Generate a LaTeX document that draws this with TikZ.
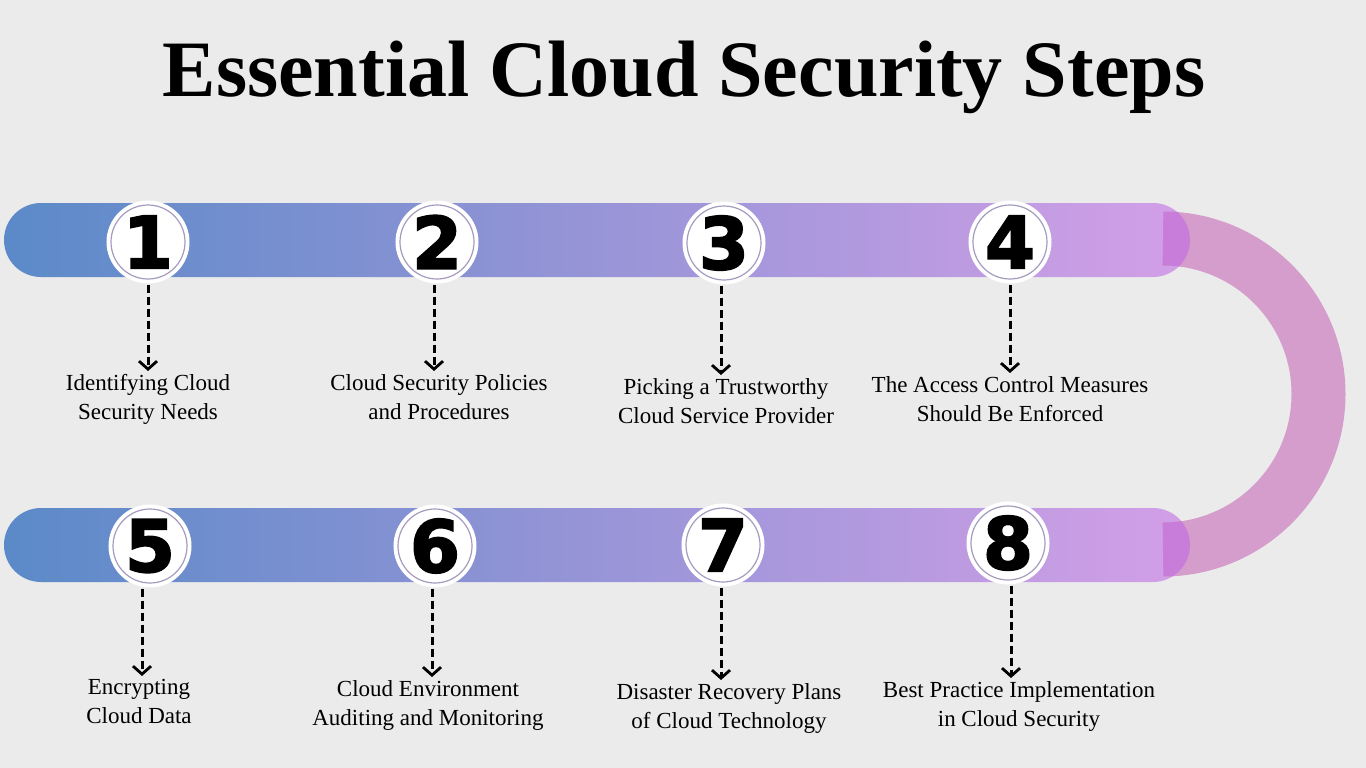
\documentclass[tikz,border=0pt]{standalone}
\usepackage{fontspec}
\setmainfont{Liberation Serif}
\newfontfamily\numfont{DejaVu Sans}[BoldFeatures={FakeBold=2.5}]
\usetikzlibrary{arrows.meta}
\definecolor{bg}{HTML}{EBEBEB}
\definecolor{barL}{HTML}{5B8AC8}
\definecolor{barM}{HTML}{9A93D6}
\definecolor{barR}{HTML}{D39FE7}
\definecolor{arccol}{HTML}{D49DCC}
\definecolor{overcol}{HTML}{C97DDB}
\definecolor{ringcol}{HTML}{A59BBD}
\tikzset{
  numc/.style={circle, fill=white, draw=ringcol, line width=1.2pt, minimum size=74pt, inner sep=0pt,
    font=\numfont\bfseries\fontsize{72}{72}\selectfont, preaction={draw=white, line width=9pt}},
  lab/.style={align=center, inner sep=0pt, anchor=north, font=\fontsize{23}{29}\selectfont},
  dar/.style={draw=black, line width=3pt, dash pattern=on 8pt off 4pt, shorten <=5pt, shorten >=3pt,
    -{Straight Barb[length=8pt,width=18pt,line width=2.8pt]}},
  bar/.style={left color=barL, middle color=barM, right color=barR, rounded corners=37pt}
}
\begin{document}
\begin{tikzpicture}[x=1pt,y=-1pt]
\fill[bg] (0,0) rectangle (1366,768);
\useasboundingbox (0,0) rectangle (1366,768);
\node[anchor=base, inner sep=0pt, font=\bfseries\fontsize{80}{80}\selectfont] (title) at (684,96) {Essential Cloud Security Steps};
% bars
\shade[bar] (4,203) rectangle (1190,277);
\shade[bar] (4,508) rectangle (1190,582);
% connecting arc
\draw[arccol, line width=54pt] (1163,238.5) arc[start angle=-90, end angle=90, radius=155.5];
\begin{scope}
\clip[rounded corners=37pt] (4,203) rectangle (1190,277);
\draw[overcol, line width=54pt] (1163,238.5) arc[start angle=-90, end angle=90, radius=155.5];
\end{scope}
\begin{scope}
\clip[rounded corners=37pt] (4,508) rectangle (1190,582);
\draw[overcol, line width=54pt] (1163,238.5) arc[start angle=-90, end angle=90, radius=155.5];
\end{scope}
% circles
\node[numc] (c1) at (148,242) {1};
\node[numc] (c2) at (437,242) {2};
\node[numc] (c3) at (724,243) {3};
\node[numc] (c4) at (1010,242) {4};
\node[numc] (c5) at (150,546) {5};
\node[numc] (c6) at (435,546) {6};
\node[numc] (c7) at (723,545) {7};
\node[numc] (c8) at (1008,543) {8};
% labels
\node[lab] (l1) at (148,374) {Identifying Cloud\\Security Needs};
\node[lab] (l2) at (439,374) {Cloud Security Policies\\and Procedures};
\node[lab] (l3) at (726,378) {Picking a Trustworthy\\Cloud Service Provider};
\node[lab] (l4) at (1010,376) {The Access Control Measures\\Should Be Enforced};
\node[lab] (l5) at (139,679) {Encrypting\\Cloud Data};
\node[lab] (l6) at (428,680) {Cloud Environment\\Auditing and Monitoring};
\node[lab] (l7) at (729,683) {Disaster Recovery Plans\\of Cloud Technology};
\node[lab] (l8) at (1019,681) {Best Practice Implementation\\in Cloud Security};
% arrows
\draw[dar] (c1.south) -- (c1.south |- l1.north);
\draw[dar] ([xshift=-3pt]c2.south) -- ([xshift=-3pt]c2.south |- l2.north);
\draw[dar] ([xshift=-3pt]c3.south) -- ([xshift=-3pt]c3.south |- l3.north);
\draw[dar] (c4.south) -- (c4.south |- l4.north);
\draw[dar] ([xshift=-8pt]c5.south) -- ([xshift=-8pt]c5.south |- l5.north);
\draw[dar] ([xshift=-3pt]c6.south) -- ([xshift=-3pt]c6.south |- l6.north);
\draw[dar] ([xshift=-2pt]c7.south) -- ([xshift=-2pt]c7.south |- l7.north);
\draw[dar] ([xshift=3pt]c8.south) -- ([xshift=3pt]c8.south |- l8.north);
\end{tikzpicture}
\end{document}
